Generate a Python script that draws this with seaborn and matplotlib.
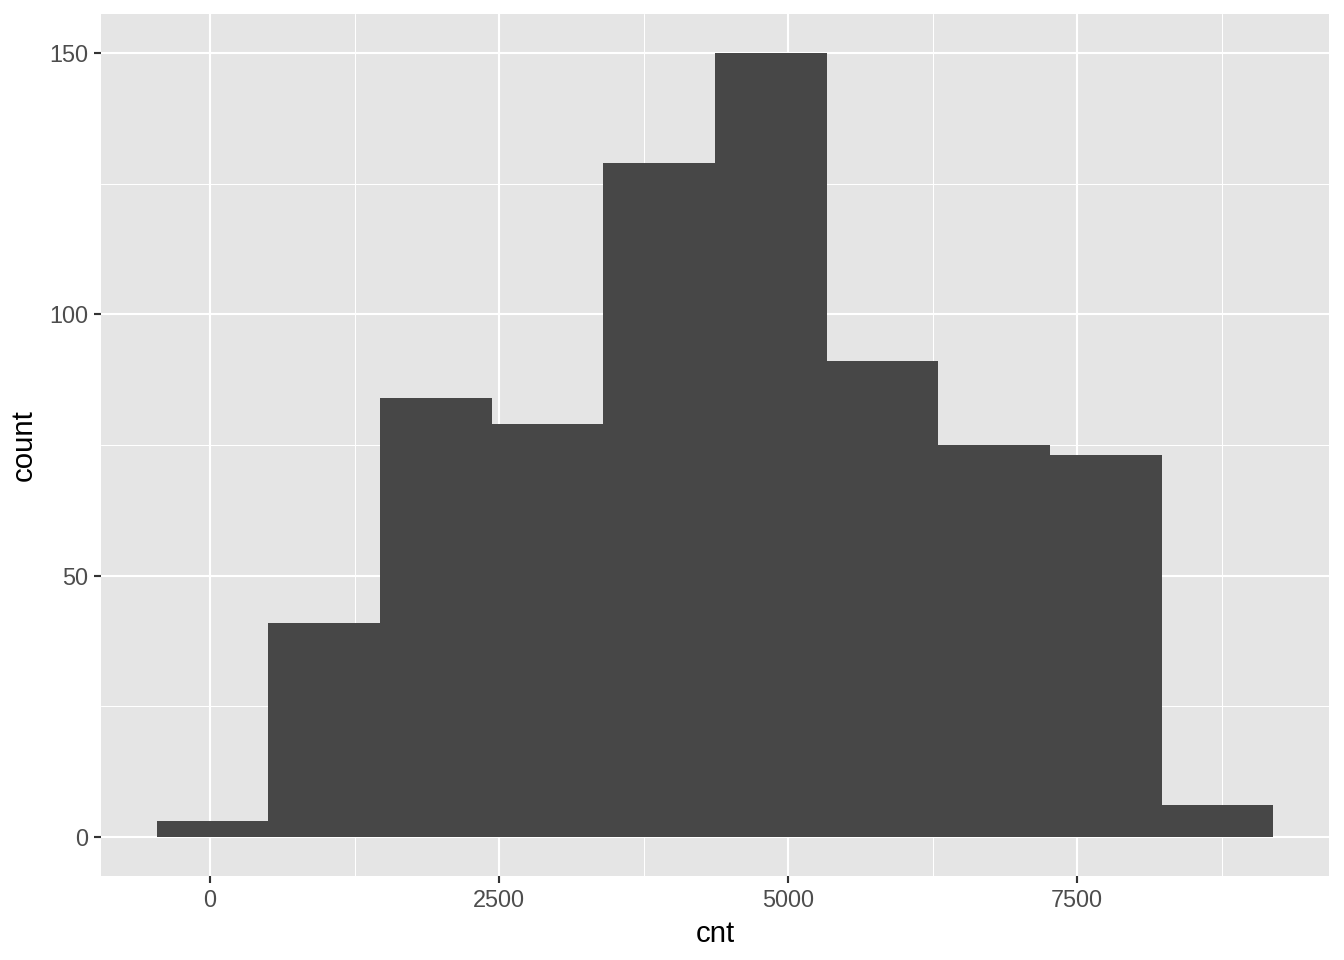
import numpy as np
import pandas as pd
import seaborn as sns
import matplotlib.pyplot as plt
from matplotlib.ticker import MultipleLocator

# Histogram of daily rental counts: 10 bins, first bin centred on min (22), last on max (8714)
bin_min, bin_max, n_bins = 22, 8714, 10
counts = [3, 41, 84, 79, 129, 150, 91, 75, 73, 6]

width = (bin_max - bin_min) / (n_bins - 1)
centers = bin_min + width * np.arange(n_bins)
lo, hi = centers[0] - width / 2, centers[-1] + width / 2
df = pd.DataFrame({"cnt": centers, "n": counts})

sns.set_style("darkgrid")
plt.rcParams["font.family"] = ["Liberation Sans", "DejaVu Sans"]

fig = plt.figure(figsize=(7, 5), dpi=192)
ax = fig.add_axes([101 / 1344, 1 - 876 / 960, (1329 - 101) / 1344, (876 - 14) / 960])
ax.set_facecolor("#E5E5E5")

sns.histplot(data=df, x="cnt", weights="n", binwidth=width, binrange=(lo, hi),
             color="#474747", alpha=1, linewidth=0, edgecolor="none", ax=ax, zorder=3)

span = hi - lo
ax.set_xlim(lo - 0.05 * span, hi + 0.05 * span)
ax.set_ylim(-7.5, 157.5)

ax.xaxis.set_major_locator(MultipleLocator(2500))
ax.xaxis.set_minor_locator(MultipleLocator(1250))
ax.yaxis.set_major_locator(MultipleLocator(50))
ax.yaxis.set_minor_locator(MultipleLocator(25))

ax.grid(which="major", color="white", linewidth=0.8)
ax.grid(which="minor", color="white", linewidth=0.4)
ax.set_axisbelow(True)
for s in ax.spines.values():
    s.set_visible(False)

ax.tick_params(axis="both", which="major", length=2.75, width=0.8, color="#333333",
               labelsize=8.8, labelcolor="#4D4D4D", pad=2.2, bottom=True, left=True)
ax.tick_params(axis="both", which="minor", length=0)

ax.set_xlabel("cnt", fontsize=11, color="black", labelpad=3)
ax.set_ylabel("count", fontsize=11, color="black", labelpad=4)

fig.savefig("out.png", dpi=192)
